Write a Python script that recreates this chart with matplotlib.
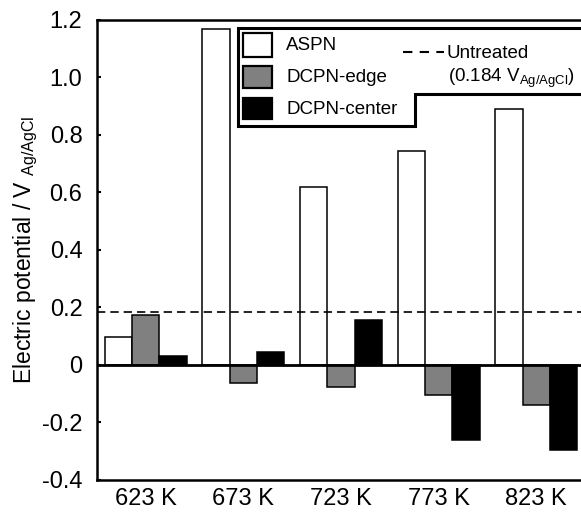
import matplotlib
matplotlib.use("Agg")
import matplotlib.pyplot as plt
import numpy as np
from matplotlib.patches import Rectangle, Polygon
from matplotlib.lines import Line2D

plt.rcParams['font.family'] = ['Liberation Sans', 'DejaVu Sans']
plt.rcParams['mathtext.fontset'] = 'custom'
plt.rcParams['mathtext.rm'] = 'Liberation Sans'
plt.rcParams['mathtext.it'] = 'Liberation Sans'

categories = ["623 K", "673 K", "723 K", "773 K", "823 K"]
aspn = [0.096, 1.169, 0.618, 0.745, 0.890]
dcpn_edge = [0.174, -0.064, -0.079, -0.107, -0.139]
dcpn_center = [0.031, 0.044, 0.154, -0.263, -0.296]
untreated = 0.184
yticks = [-0.4, -0.2, 0, 0.2, 0.4, 0.6, 0.8, 1.0, 1.2]
ytick_labels = ["-0.4", "-0.2", "0", "0.2", "0.4", "0.6", "0.8", "1.0", "1.2"]

W, H = 581, 512
fig = plt.figure(figsize=(W / 100, H / 100), dpi=100)

def fx(px):
    return px / W

def fy(py):
    return 1 - py / H

ax = fig.add_axes([fx(97), fy(479.5), fx(585) - fx(97), fy(20) - fy(479.5)])

x = np.arange(len(categories))
bw = 0.28
ax.bar(x - bw, aspn, bw, color='white', edgecolor='black', linewidth=1.1, zorder=2)
ax.bar(x, dcpn_edge, bw, color='#808080', edgecolor='black', linewidth=1.1, zorder=2)
ax.bar(x + bw, dcpn_center, bw, color='black', edgecolor='black', linewidth=1.1, zorder=2)

ax.axhline(0, color='black', linewidth=2.0, zorder=3)
ax.axhline(untreated, color='black', linewidth=1.2, linestyle=(0, (5, 3)), zorder=3)

ax.set_xlim(-0.5, 4.5)
ax.set_ylim(-0.4, 1.2)
ax.set_yticks(yticks)
ax.set_yticklabels(ytick_labels, fontsize=17)
ax.set_xticks(x)
ax.set_xticklabels(categories, fontsize=17)
ax.tick_params(axis='y', direction='in', length=3, width=1.5, pad=10.5)
ax.tick_params(axis='x', length=0, pad=6)
for s in ['left', 'bottom', 'top']:
    ax.spines[s].set_linewidth(1.8)
ax.spines['right'].set_visible(False)

ax.set_ylabel(r'Electric potential / V $_{\mathrm{Ag/AgCl}}$', fontsize=16.5, labelpad=1.5)

# Custom legend frame (notched shape)
poly_px = [(238, 28), (600, 28), (600, 94), (415, 94), (415, 126), (238, 126)]
poly = Polygon([(fx(a), fy(b)) for a, b in poly_px], closed=True, transform=fig.transFigure,
               facecolor='white', edgecolor='black', linewidth=2.2, zorder=10)
fig.patches.append(poly)

rows = [(33, 57, 'white', 'ASPN', 46), (66, 88, '#808080', 'DCPN-edge', 78), (98, 119, 'black', 'DCPN-center', 109)]
for top, bot, col, lab, cy in rows:
    r = Rectangle((fx(243), fy(bot)), fx(272) - fx(243), fy(top) - fy(bot), transform=fig.transFigure,
                  facecolor=col, edgecolor='black', linewidth=1.6, zorder=11)
    fig.patches.append(r)
    fig.text(fx(286), fy(cy), lab, fontsize=13.5, va='center', ha='left', zorder=12)

ln = Line2D([fx(403), fx(444)], [fy(52), fy(52)], transform=fig.transFigure, color='black',
            linewidth=1.5, linestyle=(0, (4.5, 3.5)), zorder=12)
fig.lines.append(ln)
fig.text(fx(447), fy(53), 'Untreated', fontsize=13.5, va='center', ha='left', zorder=12)
fig.text(fx(448), fy(78), r'(0.184 V$_{\mathrm{Ag/AgCl}}$)', fontsize=13.5, va='center', ha='left', zorder=12)

fig.savefig('out.png', dpi=100)
